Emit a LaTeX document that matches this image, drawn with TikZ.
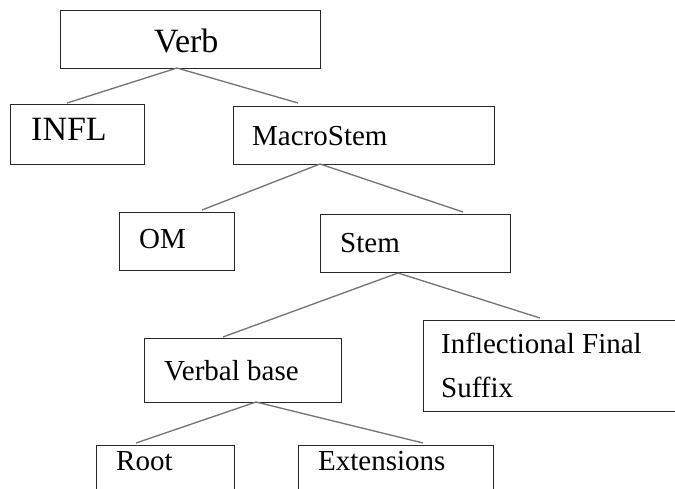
\documentclass[tikz,border=0pt]{standalone}
\usepackage{fontspec}
\setmainfont{Liberation Serif}
\begin{document}
\begin{tikzpicture}[x=1pt,y=-1pt,
  box/.style={draw=black!85,line width=0.9pt,rectangle,inner sep=0pt},
  lbl/.style={anchor=base west,inner sep=0pt,font=\fontsize{29}{44}\selectfont},
  biglbl/.style={anchor=base west,inner sep=0pt,font=\fontsize{34}{40}\selectfont},
  link/.style={draw=black!55,line width=1.3pt}]
\clip (0,0) rectangle (675,488);
\fill[white] (0,0) rectangle (675,488);
% boxes
\node[box,minimum width=260pt,minimum height=58pt] (verb) at (190,39) {};
\node[box,minimum width=134pt,minimum height=60pt] (infl) at (77,134) {};
\node[box,minimum width=261pt,minimum height=58pt] (macro) at (363.5,135) {};
\node[box,minimum width=115pt,minimum height=58pt] (om) at (176.5,241) {};
\node[box,minimum width=190pt,minimum height=58pt] (stem) at (415,243) {};
\node[box,minimum width=197pt,minimum height=64pt] (vbase) at (242.5,370) {};
\node[box,minimum width=277pt,minimum height=91pt] (infsuf) at (561.5,365.5) {};
\node[box,minimum width=138pt,minimum height=60pt] (root) at (165,475) {};
\node[box,minimum width=195pt,minimum height=60pt] (ext) at (395.5,475) {};
% labels
\node[biglbl] (tverb) at (154,52) {Verb};
\node[biglbl] (tinfl) at (31,140) {INFL};
\node[lbl] (tmacro) at (252,145) {MacroStem};
\node[lbl] (tom) at (139,248) {OM};
\node[lbl] (tstem) at (340,252) {Stem};
\node[lbl] (tvbase) at (164,380) {Verbal base};
\node[lbl] (tinf1) at (441,353) {Inflectional Final};
\node[lbl] (tinf2) at (441,397) {Suffix};
\node[lbl] (troot) at (116,470) {Root};
\node[lbl] (text) at (318,470) {Extensions};
% connector points
\coordinate (verbA) at (177,68);
\coordinate (inflT) at (67,103);
\coordinate (macroT) at (298,103);
\coordinate (macroA) at (320,164);
\coordinate (omT) at (202,210);
\coordinate (stemT) at (463,212);
\coordinate (stemA) at (398,273);
\coordinate (vbaseT) at (223,337);
\coordinate (infsufT) at (540,318);
\coordinate (vbaseA) at (256,402);
\coordinate (rootT) at (136,443);
\coordinate (extT) at (423,443);
% connectors
\draw[link] (inflT) -- (verbA) -- (macroT);
\draw[link] (omT) -- (macroA) -- (stemT);
\draw[link] (vbaseT) -- (stemA) -- (infsufT);
\draw[link] (rootT) -- (vbaseA) -- (extT);
\end{tikzpicture}
\end{document}
